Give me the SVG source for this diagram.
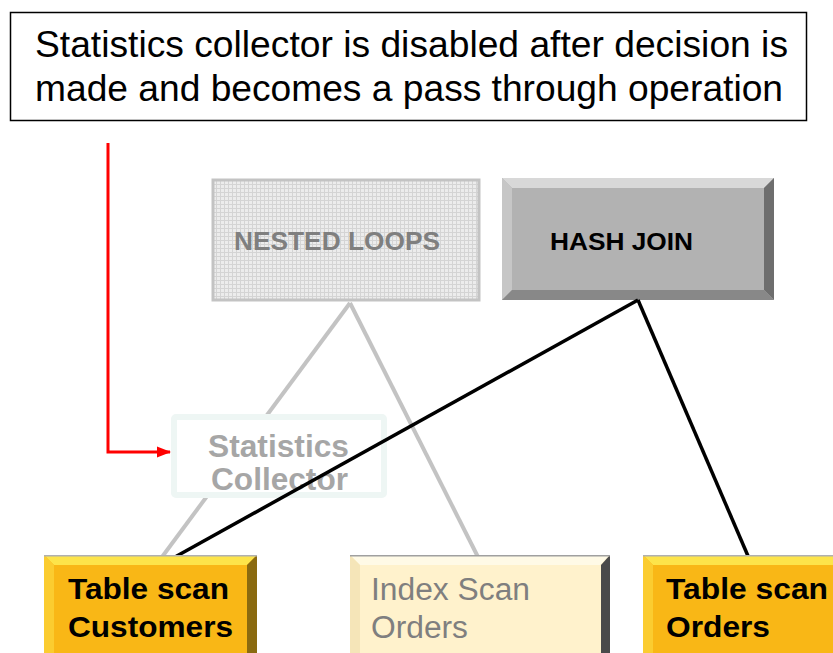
<svg xmlns="http://www.w3.org/2000/svg" width="833" height="653" viewBox="0 0 833 653">
<style>
.t{font-family:"Liberation Sans",Arial,sans-serif}
.b{font-weight:bold}
.gl{stroke:#c3c3c3;stroke-width:4;fill:none}
.bl{stroke:#000;stroke-width:3.5;fill:none}
</style>
<defs>
<pattern id="grid" width="4" height="4" patternUnits="userSpaceOnUse">
<rect width="4" height="4" fill="#ececec"/>
<path d="M0 0.5H4M0.5 0V4" stroke="#d4d4d4" stroke-width="1"/>
</pattern>
<marker id="ra" markerWidth="14" markerHeight="12" refX="13" refY="6" orient="auto" markerUnits="userSpaceOnUse">
<path d="M0 0.5L14 6L0 11.5Z" fill="#ff0000"/>
</marker>
</defs>
<g id="note">
<rect x="10.5" y="12.5" width="796" height="108" fill="#fff" stroke="#000" stroke-width="1.5"/>
<text class="t" x="35" y="57" font-size="37" textLength="753" lengthAdjust="spacingAndGlyphs">Statistics collector is disabled after decision is</text>
<text class="t" x="35" y="101" font-size="37" textLength="748" lengthAdjust="spacingAndGlyphs">made and becomes a pass through operation</text>
</g>
<g id="connectors">
<polyline points="108,143 108,452 170,452" stroke="#ff0000" stroke-width="3" fill="none" marker-end="url(#ra)"/>
<line class="gl" x1="350" y1="303" x2="162" y2="557"/>
<line class="gl" x1="350" y1="303" x2="478" y2="557"/>
</g>
<g id="nested-loops">
<rect x="213" y="180" width="266" height="120" fill="url(#grid)" stroke="#c3c3c3" stroke-width="3"/>
<text class="t b" x="234" y="250" font-size="25" fill="#7f7f7f" textLength="206" lengthAdjust="spacingAndGlyphs">NESTED LOOPS</text>
</g>
<g id="hash-join">
<rect x="502" y="178" width="272" height="122" fill="#b2b2b2"/>
<polygon points="502,178 774,178 764,188 512,188" fill="#d8d8d8"/>
<polygon points="502,178 512,188 512,290 502,300" fill="#c6c6c6"/>
<polygon points="774,178 774,300 764,290 764,188" fill="#6e6e6e"/>
<polygon points="502,300 774,300 764,290 512,290" fill="#888"/>
<text class="t b" x="550" y="250" font-size="24" fill="#000" textLength="143" lengthAdjust="spacingAndGlyphs">HASH JOIN</text>
</g>
<g id="statistics-collector">
<rect x="174" y="417" width="210" height="78" fill="#fff" stroke="#eef6f4" stroke-width="6" rx="2"/>
<text class="t b" x="208" y="457" font-size="31" fill="#a6a6a6" textLength="141" lengthAdjust="spacingAndGlyphs">Statistics</text>
<text class="t b" x="211" y="490" font-size="31" fill="#a6a6a6" textLength="137" lengthAdjust="spacingAndGlyphs">Collector</text>
</g>
<g id="connectors-hash">
<line class="bl" x1="638" y1="300" x2="175" y2="557"/>
<line class="bl" x1="638" y1="300" x2="748" y2="556"/>
</g>
<g id="table-scan-customers">
<rect x="44" y="555" width="213" height="110" fill="#f9b716"/>
<polygon points="44,555 257,555 247,565 54,565" fill="#fde44a"/>
<polygon points="44,555 54,565 54,653 44,653" fill="#fbcc30"/>
<polygon points="257,555 257,653 247,653 247,565" fill="#8a6a10"/>
<rect x="44" y="555" width="213" height="1.5" fill="#b0b0b0"/>
<text class="t b" x="68" y="599" font-size="30" fill="#000" textLength="161" lengthAdjust="spacingAndGlyphs">Table scan</text>
<text class="t b" x="68" y="637" font-size="30" fill="#000" textLength="165" lengthAdjust="spacingAndGlyphs">Customers</text>
</g>
<g id="index-scan-orders">
<rect x="350" y="555" width="260" height="110" fill="#fff2cc"/>
<polygon points="350,555 610,555 600,565 360,565" fill="#fffae6"/>
<polygon points="350,555 360,565 360,653 350,653" fill="#f5e5b8"/>
<polygon points="610,555 610,653 601,653 601,565" fill="#4a4a4a"/>
<rect x="350" y="555" width="260" height="1.5" fill="#a0a0a0"/>
<text class="t" x="371" y="600" font-size="31" fill="#7f7f7f" textLength="159" lengthAdjust="spacingAndGlyphs">Index Scan</text>
<text class="t" x="371" y="638" font-size="31" fill="#7f7f7f" textLength="97" lengthAdjust="spacingAndGlyphs">Orders</text>
</g>
<g id="table-scan-orders">
<rect x="643" y="555" width="200" height="110" fill="#f9b716"/>
<polygon points="643,555 843,555 833,565 653,565" fill="#fde44a"/>
<polygon points="643,555 653,565 653,653 643,653" fill="#fbcc30"/>
<rect x="643" y="555" width="200" height="1.5" fill="#b0b0b0"/>
<text class="t b" x="666" y="599" font-size="30" fill="#000" textLength="162" lengthAdjust="spacingAndGlyphs">Table scan</text>
<text class="t b" x="666" y="637" font-size="30" fill="#000" textLength="104" lengthAdjust="spacingAndGlyphs">Orders</text>
</g>
</svg>
